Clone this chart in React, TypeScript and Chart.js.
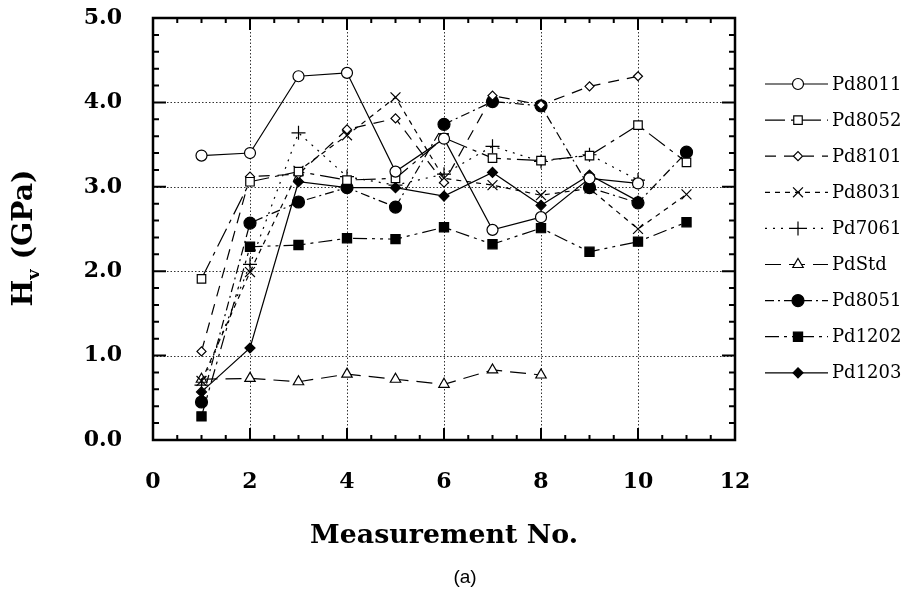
import React, { useEffect, useRef } from 'react';
import { Chart, registerables } from 'chart.js';

Chart.register(...registerables);

// ---------- data ----------
const measurementNos = [1, 2, 3, 4, 5, 6, 7, 8, 9, 10, 11];
const xTickValues = [0, 2, 4, 6, 8, 10, 12];
const yTickValues = [0, 1, 2, 3, 4, 5];
const seriesNames = ['Pd8011', 'Pd8052', 'Pd8101', 'Pd8031', 'Pd7061', 'PdStd', 'Pd8051', 'Pd1202', 'Pd1203'];

const pd8011 = [3.37, 3.40, 4.31, 4.35, 3.18, 3.57, 2.49, 2.64, 3.10, 3.04];
const pd8052 = [1.91, 3.06, 3.18, 3.08, 3.10, 3.58, 3.34, 3.31, 3.37, 3.73, 3.29];
const pd8101 = [1.05, 3.12, 3.15, 3.68, 3.81, 3.05, 4.08, 3.97, 4.19, 4.31];
const pd8031 = [0.70, 1.99, 3.19, 3.61, 4.06, 3.10, 3.02, 2.90, 2.98, 2.50, 2.91];
const pd7061 = [0.65, 2.08, 3.64, 3.12, 3.02, 3.15, 3.48, 3.30, 3.38, 3.08];
const pdStd = [0.72, 0.73, 0.69, 0.78, 0.72, 0.66, 0.83, 0.77];
const pd8051 = [0.45, 2.57, 2.82, 2.99, 2.76, 3.74, 4.01, 3.96, 2.99, 2.81, 3.41];
const pd1202 = [0.28, 2.29, 2.31, 2.39, 2.38, 2.52, 2.32, 2.51, 2.23, 2.35, 2.58];
const pd1203 = [0.57, 1.09, 3.06, 2.99, 2.99, 2.89, 3.17, 2.78, 3.14, 2.83];

const seriesValues = [pd8011, pd8052, pd8101, pd8031, pd7061, pdStd, pd8051, pd1202, pd1203];

// ---------- styles ----------
type MarkStyle = { dash: number[]; point: string; radius: number; filled: boolean };
const styles: MarkStyle[] = [
  { dash: [], point: 'circle', radius: 5.5, filled: false },
  { dash: [20, 6, 4, 6], point: 'rect', radius: 6, filled: false },
  { dash: [11, 8], point: 'rectRot', radius: 4.5, filled: false },
  { dash: [5, 5], point: 'crossRot', radius: 7, filled: false },
  { dash: [2, 6], point: 'cross', radius: 7, filled: false },
  { dash: [16, 8], point: 'triangle', radius: 6, filled: false },
  { dash: [9, 4, 2, 4], point: 'circle', radius: 6, filled: true },
  { dash: [14, 5, 3, 5, 3, 5], point: 'rect', radius: 6.5, filled: true },
  { dash: [], point: 'rectRot', radius: 5, filled: true },
];

const SERIF = '"DejaVu Serif", serif';

function drawMarker(ctx: CanvasRenderingContext2D, s: MarkStyle, x: number, y: number) {
  ctx.save();
  ctx.setLineDash([]);
  ctx.lineWidth = 1.2;
  ctx.strokeStyle = '#000';
  ctx.fillStyle = s.filled ? '#000' : '#fff';
  const r = s.radius;
  ctx.beginPath();
  switch (s.point) {
    case 'circle':
      ctx.arc(x, y, r, 0, Math.PI * 2);
      ctx.fill();
      ctx.stroke();
      break;
    case 'rect': {
      const h = r * Math.SQRT1_2;
      ctx.rect(x - h, y - h, 2 * h, 2 * h);
      ctx.fill();
      ctx.stroke();
      break;
    }
    case 'rectRot':
      ctx.moveTo(x - r, y);
      ctx.lineTo(x, y - r);
      ctx.lineTo(x + r, y);
      ctx.lineTo(x, y + r);
      ctx.closePath();
      ctx.fill();
      ctx.stroke();
      break;
    case 'triangle':
      ctx.moveTo(x, y - r);
      ctx.lineTo(x + r * 0.87, y + r * 0.5);
      ctx.lineTo(x - r * 0.87, y + r * 0.5);
      ctx.closePath();
      ctx.fill();
      ctx.stroke();
      break;
    case 'cross':
      ctx.moveTo(x - r, y);
      ctx.lineTo(x + r, y);
      ctx.moveTo(x, y - r);
      ctx.lineTo(x, y + r);
      ctx.stroke();
      break;
    case 'crossRot': {
      const d = r * Math.SQRT1_2;
      ctx.moveTo(x - d, y - d);
      ctx.lineTo(x + d, y + d);
      ctx.moveTo(x - d, y + d);
      ctx.lineTo(x + d, y - d);
      ctx.stroke();
      break;
    }
  }
  ctx.restore();
}

function fitFont(ctx: CanvasRenderingContext2D, text: string, weight: string, family: string, targetW: number, start: number) {
  ctx.font = `${weight} ${start}px ${family}`;
  const w = ctx.measureText(text).width;
  const size = start * targetW / w;
  return `${weight} ${size.toFixed(2)}px ${family}`;
}

const framePlugin = {
  id: 'framePlugin',
  beforeDatasetsDraw(chart: any) {
    const ctx: CanvasRenderingContext2D = chart.ctx;
    const { left, right, top, bottom } = chart.chartArea;
    const xs = chart.scales.x;
    const ys = chart.scales.y;
    ctx.save();
    ctx.strokeStyle = '#333';
    ctx.lineWidth = 1;
    ctx.setLineDash([1.5, 2]);
    for (const v of xTickValues) {
      if (v === 0 || v === 12) continue;
      const px = Math.round(xs.getPixelForValue(v)) + 0.5;
      ctx.beginPath();
      ctx.moveTo(px, top);
      ctx.lineTo(px, bottom);
      ctx.stroke();
    }
    for (const v of yTickValues) {
      if (v === 0 || v === 5) continue;
      const py = Math.round(ys.getPixelForValue(v)) + 0.5;
      ctx.beginPath();
      ctx.moveTo(left, py);
      ctx.lineTo(right, py);
      ctx.stroke();
    }
    ctx.restore();
  },
  afterDraw(chart: any) {
    const ctx: CanvasRenderingContext2D = chart.ctx;
    const { left, right, top, bottom } = chart.chartArea;
    const xs = chart.scales.x;
    const ys = chart.scales.y;
    ctx.save();
    ctx.setLineDash([]);
    ctx.strokeStyle = '#000';
    // frame
    ctx.lineWidth = 2.5;
    ctx.strokeRect(left, top, right - left, bottom - top);
    // ticks
    ctx.lineWidth = 2;
    for (let i = 0; i <= 24; i++) {
      const v = i * 0.5;
      const px = xs.getPixelForValue(v);
      const len = v % 2 === 0 ? 12 : 5;
      ctx.beginPath();
      ctx.moveTo(px, bottom);
      ctx.lineTo(px, bottom - len);
      ctx.moveTo(px, top);
      ctx.lineTo(px, top + len);
      ctx.stroke();
    }
    for (let i = 0; i <= 25; i++) {
      const v = i * 0.2;
      const py = ys.getPixelForValue(v);
      const len = i % 5 === 0 ? 13 : 6;
      ctx.beginPath();
      ctx.moveTo(left, py);
      ctx.lineTo(left + len, py);
      ctx.moveTo(right, py);
      ctx.lineTo(right - len, py);
      ctx.stroke();
    }

    // x title
    ctx.fillStyle = '#000';
    ctx.textAlign = 'center';
    ctx.textBaseline = 'alphabetic';
    const xt = 'Measurement No.';
    ctx.font = fitFont(ctx, xt, 'bold', SERIF, 268, 26);
    ctx.fillText(xt, 444, 543);

    // (a)
    ctx.font = '19px "Liberation Sans", Arial, sans-serif';
    ctx.fillText('(a)', 465, 583);

    // y title with subscript
    ctx.save();
    ctx.translate(32, 238);
    ctx.rotate(-Math.PI / 2);
    ctx.textAlign = 'left';
    const big = 27, small = 17;
    ctx.font = `bold ${big}px ${SERIF}`;
    const wH = ctx.measureText('H').width;
    const wRest = ctx.measureText(' (GPa)').width;
    ctx.font = `bold ${small}px ${SERIF}`;
    const wv = ctx.measureText('v').width;
    const total = wH + wv + wRest;
    const sc = 137 / total;
    ctx.scale(sc, 1);
    let cx = -total / 2;
    ctx.font = `bold ${big}px ${SERIF}`;
    ctx.fillText('H', cx, 0);
    cx += wH;
    ctx.font = `bold ${small}px ${SERIF}`;
    ctx.fillText('v', cx, 7);
    cx += wv;
    ctx.font = `bold ${big}px ${SERIF}`;
    ctx.fillText(' (GPa)', cx, 0);
    ctx.restore();

    // legend
    ctx.textAlign = 'left';
    ctx.textBaseline = 'middle';
    ctx.font = `18px ${SERIF}`;
    seriesNames.forEach((name, i) => {
      const y = 84 + 36.1 * i;
      const s = styles[i];
      ctx.save();
      ctx.lineWidth = 1.2;
      ctx.strokeStyle = '#000';
      ctx.setLineDash(s.dash);
      ctx.beginPath();
      ctx.moveTo(765, y);
      ctx.lineTo(828, y);
      ctx.stroke();
      ctx.restore();
      drawMarker(ctx, s, 798, y);
      ctx.fillStyle = '#000';
      ctx.fillText(name, 832, y + 1);
    });
    ctx.restore();
  },
};

export default function App() {
  const canvasRef = useRef<HTMLCanvasElement | null>(null);

  useEffect(() => {
    document.body.style.margin = '0';
    const canvas = canvasRef.current;
    if (!canvas) return;
    const datasets = seriesValues.map((vals, i) => {
      const s = styles[i];
      return {
        label: seriesNames[i],
        data: vals.map((v, j) => ({ x: measurementNos[j], y: v })),
        borderColor: '#000',
        borderWidth: 1.2,
        borderDash: s.dash,
        backgroundColor: s.filled ? '#000' : '#fff',
        pointStyle: s.point,
        pointRadius: s.radius,
        pointBorderWidth: 1.2,
        pointBorderColor: '#000',
        pointBackgroundColor: s.filled ? '#000' : '#fff',
        tension: 0,
        fill: false,
      };
    });
    const zeroPad = (scale: any) => {
      scale.paddingTop = 0;
      scale.paddingBottom = 0;
      scale.paddingLeft = 0;
      scale.paddingRight = 0;
    };
    const chart = new Chart(canvas, {
      type: 'line',
      data: { datasets },
      options: {
        animation: false,
        responsive: false,
        devicePixelRatio: 1,
        layout: { padding: { top: 18, right: 172, left: 0, bottom: 0 } },
        plugins: { legend: { display: false }, tooltip: { enabled: false }, title: { display: false } },
        scales: {
          x: {
            type: 'linear',
            min: 0,
            max: 12,
            afterBuildTicks: (scale: any) => {
              scale.ticks = xTickValues.map((v) => ({ value: v }));
            },
            afterFit: (scale: any) => {
              scale.height = 152;
              zeroPad(scale);
            },
            ticks: {
              color: '#000',
              font: { family: SERIF, size: 22, weight: 'bold' },
              padding: 29,
              maxRotation: 0,
              callback: (v: any) => String(v),
            },
            grid: { display: false, drawTicks: false },
            border: { display: false },
          },
          y: {
            type: 'linear',
            min: 0,
            max: 5,
            afterBuildTicks: (scale: any) => {
              scale.ticks = yTickValues.map((v) => ({ value: v }));
            },
            afterFit: (scale: any) => {
              scale.width = 153;
              zeroPad(scale);
            },
            ticks: {
              color: '#000',
              font: { family: SERIF, size: 22, weight: 'bold' },
              padding: 31,
              callback: (v: any) => Number(v).toFixed(1),
            },
            grid: { display: false, drawTicks: false },
            border: { display: false },
          },
        },
      } as any,
      plugins: [framePlugin],
    });
    return () => chart.destroy();
  }, []);

  return (
    <div style={{ width: 907, height: 592, background: '#fff' }}>
      <canvas ref={canvasRef} width={907} height={592} style={{ display: 'block' }} />
    </div>
  );
}
